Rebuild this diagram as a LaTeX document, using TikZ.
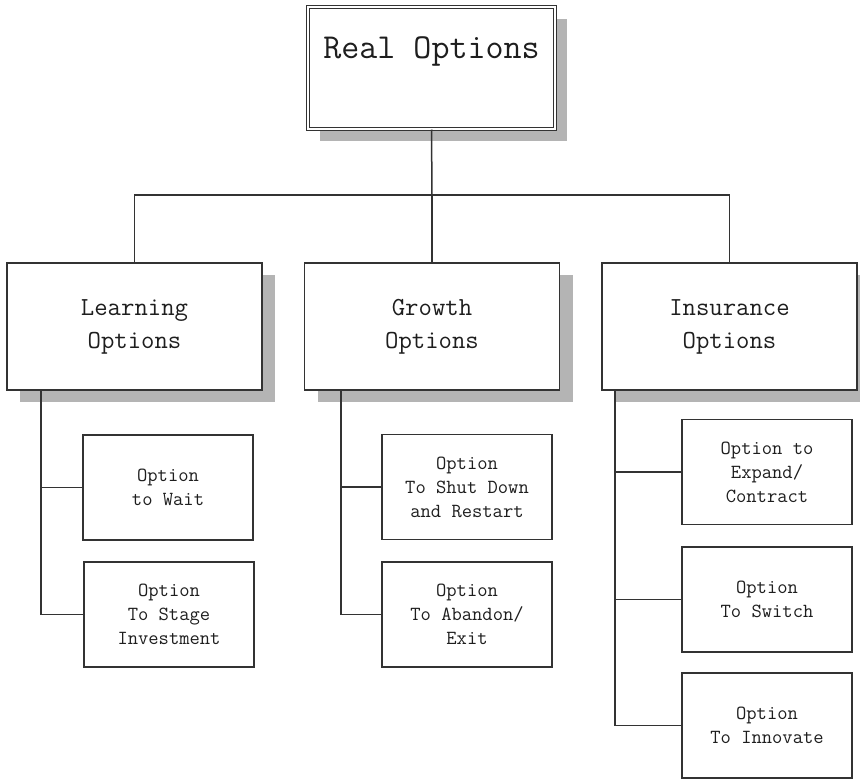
\documentclass[tikz,border=0pt]{standalone}
\usetikzlibrary{shadows}
\definecolor{linegray}{HTML}{333333}
\definecolor{shadegray}{HTML}{B4B4B4}
\definecolor{inkgray}{HTML}{1E1E1E}
\tikzset{
	rootbox/.style={draw=linegray, line width=1pt, double, double distance=2pt, fill=white,
		general shadow={fill=shadegray, shadow xshift=12pt, shadow yshift=-12pt},
		inner sep=0pt, minimum width=247pt, text height=51pt, text depth=71pt, text=inkgray,
		font=\ttfamily\fontsize{35}{42}\selectfont},
	groupbox/.style={draw=linegray, line width=1.5pt, fill=white,
		general shadow={fill=shadegray, shadow xshift=13pt, shadow yshift=-12pt},
		minimum width=255pt, minimum height=127pt, align=center, text=inkgray,
		font=\ttfamily\fontsize{26}{33}\selectfont},
	leafbox/.style={draw=linegray, line width=1.5pt, fill=white,
		minimum width=170pt, minimum height=105pt, align=center, text=inkgray,
		font=\ttfamily\fontsize{20}{24}\selectfont},
	wire/.style={draw=linegray, line width=1.5pt}
}
\begin{document}
\begin{tikzpicture}[x=1pt,y=-1pt]
	\useasboundingbox (0,0) rectangle (860,780);
	% top level
	\node[rootbox] (root) at (431.5,68) {Real Options};
	% three groups
	\node[groupbox] (learn) at (134.5,326.5) {Learning\\Options};
	\node[groupbox] (grow) at (432,326.5) {Growth\\Options};
	\node[groupbox] (insur) at (729.5,326.5) {Insurance\\Options};
	\coordinate (bus) at (432,195);
	\draw[wire] (root.south) -- (bus);
	\draw[wire] (bus) -- (grow.north);
	\draw[wire] (learn.north) |- (bus) -| (insur.north);
	% learning options
	\node[leafbox] (wait) at (168,487.5) {Option\\to Wait};
	\node[leafbox] (stage) at (169,614.5) {Option\\To Stage\\Investment};
	\coordinate (lt) at (41,390);
	\draw[wire] (lt) |- (stage.west);
	\draw[wire] (wait.west) -- (wait.west -| lt);
	% growth options
	\node[leafbox] (shut) at (467,487) {Option\\To Shut Down\\and Restart};
	\node[leafbox] (abandon) at (467,614.5) {Option\\To Abandon/\\Exit};
	\coordinate (gt) at (341,390);
	\draw[wire] (gt) |- (abandon.west);
	\draw[wire] (shut.west) -- (shut.west -| gt);
	% insurance options
	\node[leafbox] (expand) at (767,472) {Option to\\Expand/\\Contract};
	\node[leafbox] (switch) at (767,599.5) {Option\\To Switch};
	\node[leafbox] (innovate) at (767,725.5) {Option\\To Innovate};
	\coordinate (it) at (615,390);
	\draw[wire] (it) |- (innovate.west);
	\draw[wire] (expand.west) -- (expand.west -| it);
	\draw[wire] (switch.west) -- (switch.west -| it);
\end{tikzpicture}
\end{document}
